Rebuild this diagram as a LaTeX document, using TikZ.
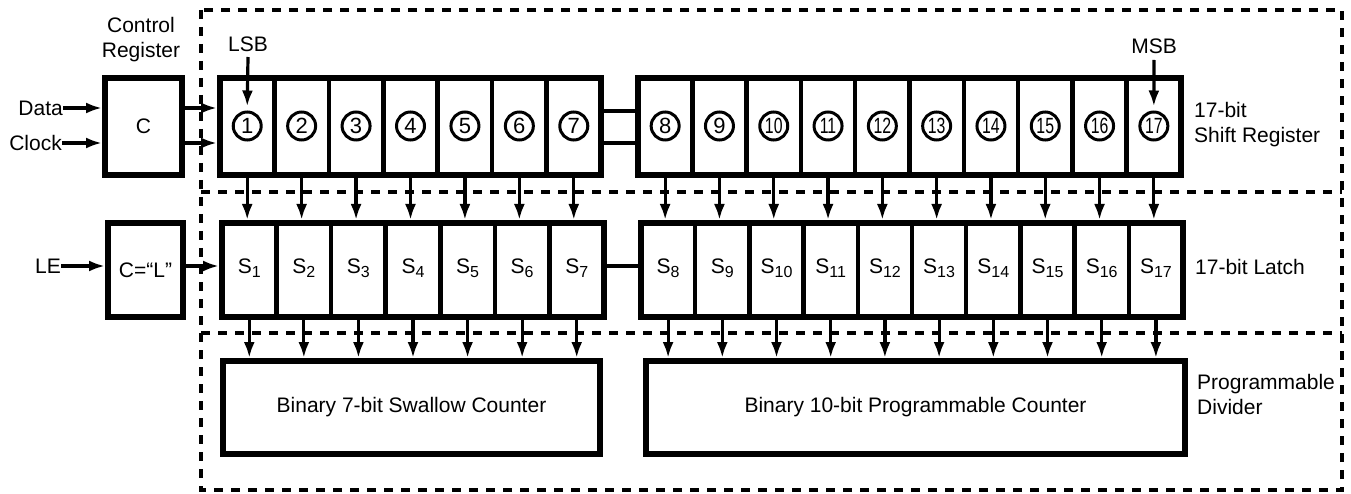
\documentclass[tikz,border=0pt]{standalone}
\usepackage{fontspec}
\setmainfont{Liberation Sans}
\usetikzlibrary{arrows.meta}
\newcommand{\Ssub}[1]{S\raisebox{-0.35ex}{\fontsize{16}{16}\selectfont #1}}
\begin{document}
\begin{tikzpicture}[x=1pt,y=-1pt,
  font=\fontsize{21}{25}\selectfont,
  bigbox/.style={draw, line width=6pt, minimum height=97pt, inner sep=0pt},
  cellline/.style={line width=4.5pt},
  arr/.style={line width=3.2pt, -{Latex[length=16pt,width=11pt]}},
  wire/.style={line width=3.2pt},
  dashbord/.style={line width=4.5pt, dash pattern=on 9pt off 8pt},
  circ/.style={circle, draw, line width=3pt, minimum size=28pt, inner sep=0pt, font=\fontsize{22}{22}\selectfont},
  lbl/.style={inner sep=0pt, align=left, anchor=west}
]
\useasboundingbox (0,0) rectangle (1351,494);

% dashed frame
\draw[dashbord] (201,10) rectangle (1342,490);
\draw[dashbord] (201,192) -- (1342,192);
\draw[dashbord] (201,333) -- (1342,333);

% control registers
\node[bigbox, minimum width=77pt] (C) at (143.5,126.5) {C};
\node[inner sep=0pt, align=center] (ctrl) at (141,40) {Control\\Register};
\node[bigbox, minimum width=75pt, minimum height=94pt] (CL) at (145.5,270) {C=“L”};

% shift register boxes
\node[bigbox, minimum width=381pt] (SR1) at (410.5,126.5) {};
\node[bigbox, minimum width=543pt] (SR2) at (909.5,126.5) {};
% latch boxes
\node[bigbox, minimum width=382pt, minimum height=94pt] (L1) at (413,270) {};
\node[bigbox, minimum width=542pt, minimum height=94pt] (L2) at (912,270) {};
% counters
\node[bigbox, minimum width=377pt, minimum height=93pt] (K1) at (411.5,407.5) {Binary 7-bit Swallow Counter};
\node[bigbox, minimum width=539pt, minimum height=93pt] (K2) at (915.5,407.5) {Binary 10-bit Programmable Counter};

% cell dividers
\foreach \i in {1,...,6} {
  \pgfmathsetmacro{\xa}{220+\i*54.4286}
  \draw[cellline] (\xa,80) -- (\xa,173);
  \pgfmathsetmacro{\xb}{222+\i*54.571}
  \draw[cellline] (\xb,225) -- (\xb,315);
}
\foreach \i in {1,...,9} {
  \pgfmathsetmacro{\xa}{638+\i*54.3}
  \draw[cellline] (\xa,80) -- (\xa,173);
  \pgfmathsetmacro{\xb}{641+\i*54.2}
  \draw[cellline] (\xb,225) -- (\xb,315);
}

% circled numbers and latch cells
\foreach \i in {1,...,7} {
  \pgfmathsetmacro{\xa}{220+(\i-0.5)*54.4286}
  \node[circ] (c\i) at (\xa,126) {\i};
  \pgfmathsetmacro{\xb}{222+(\i-0.5)*54.571}
  \node[inner sep=1pt] (s\i) at (\xb,268) {\Ssub{\i}};
}
\foreach \i in {8,9} {
  \pgfmathsetmacro{\xa}{638+(\i-7.5)*54.3}
  \node[circ] (c\i) at (\xa,126) {\i};
}
\foreach \i in {10,...,17} {
  \pgfmathsetmacro{\xa}{638+(\i-7.5)*54.3}
  \node[circ] (c\i) at (\xa,126) {\scalebox{0.72}[1]{\i}};
}
\foreach \i in {8,...,17} {
  \pgfmathsetmacro{\xb}{641+(\i-7.5)*54.2}
  \node[inner sep=1pt] (s\i) at (\xb,268) {\Ssub{\i}};
}

% vertical arrows
\foreach \i in {1,...,7} {
  \draw[arr] (c\i |- SR1.south) -- (c\i |- L1.north);
  \draw[arr] (s\i |- L1.south) -- (s\i |- K1.north);
}
\foreach \i in {8,...,17} {
  \draw[arr] (c\i |- SR2.south) -- (c\i |- L2.north);
  \draw[arr] (s\i |- L2.south) -- (s\i |- K2.north);
}

% LSB / MSB
\node[inner sep=0pt] (lsb) at (248,44) {LSB};
\draw[arr] (lsb.south |- 0,57) -- ([yshift=4pt]c1.north);
\node[inner sep=0pt] (msb) at (1154,46) {MSB};
\draw[arr] (msb.south |- 0,60) -- ([yshift=4pt]c17.north);

% inputs
\node[inner sep=0pt, anchor=east] (data) at (63,108) {Data};
\node[inner sep=0pt, anchor=east] (clock) at (62,143) {Clock};
\node[inner sep=0pt, anchor=east] (le) at (61,266) {LE};
\draw[arr] (data.east) -- ([yshift=18.5pt]C.west);
\draw[arr] (clock.east) -- ([yshift=-16.5pt]C.west);
\draw[arr] ([yshift=18.5pt]C.east) -- ([yshift=18.5pt]SR1.west);
\draw[arr] ([yshift=-16.5pt]C.east) -- ([yshift=-16.5pt]SR1.west);
\draw[arr] (le.east) -- ([yshift=4pt]CL.west);
\draw[arr] ([yshift=4pt]CL.east) -- ([yshift=4pt]L1.west);

% links between halves
\draw[wire] ([yshift=15.5pt]SR1.east) -- ([yshift=15.5pt]SR2.west);
\draw[wire] ([yshift=-16.5pt]SR1.east) -- ([yshift=-16.5pt]SR2.west);
\draw[wire] ([yshift=4pt]L1.east) -- ([yshift=4pt]L2.west);

% side labels
\node[lbl] (srl) at (1194,124.5) {17-bit\\Shift Register};
\node[lbl] (ltl) at (1195,267) {17-bit Latch};
\node[lbl] (pdl) at (1197,394) {Programmable\\Divider};
\end{tikzpicture}
\end{document}
